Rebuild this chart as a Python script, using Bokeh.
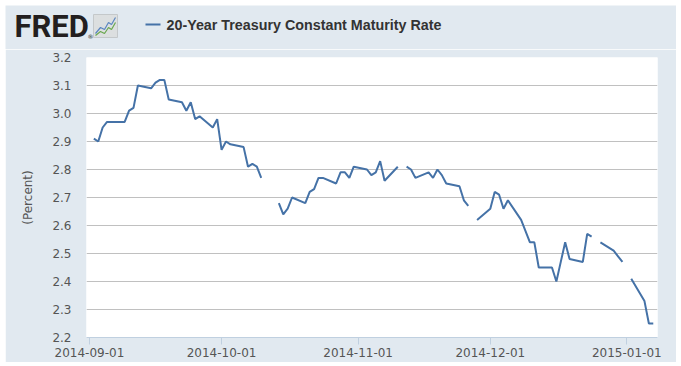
import numpy as np
import pandas as pd
from bokeh.plotting import figure
from bokeh.layouts import column
from bokeh.core.properties import value
from bokeh.models import (ColumnDataSource, FixedTicker, DatetimeTickFormatter, Range1d,
                          NumeralTickFormatter)
from bokeh.embed import file_html
from bokeh.resources import INLINE

# ---- data (DGS20, percent); NaN = market holiday ----
dates = [
    "2014-09-01", "2014-09-02", "2014-09-03", "2014-09-04", "2014-09-05",
    "2014-09-08", "2014-09-09", "2014-09-10", "2014-09-11", "2014-09-12",
    "2014-09-15", "2014-09-16", "2014-09-17", "2014-09-18", "2014-09-19",
    "2014-09-22", "2014-09-23", "2014-09-24", "2014-09-25", "2014-09-26",
    "2014-09-29", "2014-09-30", "2014-10-01", "2014-10-02", "2014-10-03",
    "2014-10-06", "2014-10-07", "2014-10-08", "2014-10-09", "2014-10-10",
    "2014-10-13", "2014-10-14", "2014-10-15", "2014-10-16", "2014-10-17",
    "2014-10-20", "2014-10-21", "2014-10-22", "2014-10-23", "2014-10-24",
    "2014-10-27", "2014-10-28", "2014-10-29", "2014-10-30", "2014-10-31",
    "2014-11-03", "2014-11-04", "2014-11-05", "2014-11-06", "2014-11-07",
    "2014-11-10", "2014-11-11", "2014-11-12", "2014-11-13", "2014-11-14",
    "2014-11-17", "2014-11-18", "2014-11-19", "2014-11-20", "2014-11-21",
    "2014-11-24", "2014-11-25", "2014-11-26", "2014-11-27", "2014-11-28",
    "2014-12-01", "2014-12-02", "2014-12-03", "2014-12-04", "2014-12-05",
    "2014-12-08", "2014-12-09", "2014-12-10", "2014-12-11", "2014-12-12",
    "2014-12-15", "2014-12-16", "2014-12-17", "2014-12-18", "2014-12-19",
    "2014-12-22", "2014-12-23", "2014-12-24", "2014-12-25", "2014-12-26",
    "2014-12-29", "2014-12-30", "2014-12-31", "2015-01-01", "2015-01-02",
    "2015-01-05", "2015-01-06", "2015-01-07",
]
nan = float("nan")
rates = [
    nan, 2.91, 2.90, 2.95, 2.97,
    2.97, 2.97, 3.01, 3.02, 3.10,
    3.09, 3.11, 3.12, 3.12, 3.05,
    3.04, 3.01, 3.04, 2.98, 2.99,
    2.95, 2.98, 2.87, 2.90, 2.89,
    2.88, 2.81, 2.82, 2.81, 2.77,
    nan, 2.68, 2.64, 2.66, 2.70,
    2.68, 2.72, 2.73, 2.77, 2.77,
    2.75, 2.79, 2.79, 2.77, 2.81,
    2.80, 2.78, 2.79, 2.83, 2.76,
    2.81, nan, 2.81, 2.80, 2.77,
    2.79, 2.77, 2.80, 2.78, 2.75,
    2.74, 2.69, 2.67, nan, 2.62,
    2.66, 2.72, 2.71, 2.66, 2.69,
    2.62, 2.58, 2.54, 2.54, 2.45,
    2.45, 2.40, 2.47, 2.54, 2.48,
    2.47, 2.57, 2.56, nan, 2.54,
    2.51, 2.49, 2.47, nan, 2.41,
    2.33, 2.25, 2.25,
]
x_tick_labels = ["2014-09-01", "2014-10-01", "2014-11-01", "2014-12-01", "2015-01-01"]
y_ticks = [2.2, 2.3, 2.4, 2.5, 2.6, 2.7, 2.8, 2.9, 3.0, 3.1, 3.2]
series_name = "20-Year Treasury Constant Maturity Rate"
y_label = "(Percent)"
logo_text = "FRED"

BG = "#e1e9f0"
LINE = "#4572a7"
TXT = "#555555"
W = 671
HH = 44   # header height

# ---------------- header (pixel-space figure) ----------------
h = figure(width=W, height=HH, output_backend="svg", toolbar_location=None,
           x_range=Range1d(0, W), y_range=Range1d(HH, 0),
           x_axis_location=None, y_axis_location=None,
           background_fill_color=BG, border_fill_color=BG,
           min_border=0, min_border_left=0, min_border_right=0,
           min_border_top=0, min_border_bottom=0)
h.frame_align = False
h.outline_line_color = None
h.grid.visible = False

h.text(x=[9], y=[21], text=[logo_text], text_font=value("Roboto"),
       text_font_style="bold", text_font_size="31px", text_color="#231f20",
       text_baseline="middle", text_align="left")
h.text(x=[82], y=[31], text=["®"], text_font=value("DejaVu Sans"),
       text_font_size="6px", text_color="#231f20", text_baseline="middle",
       text_align="left")
# small logo icon
h.quad(left=[88], right=[112], top=[9], bottom=[32], fill_color="#dcdfe0",
       line_color="#c4c8ca", line_width=1)
h.line(x=[90, 95, 99, 103, 106, 110], y=[28, 22, 24, 17, 19, 12],
       line_color="#5b86c0", line_width=1.2)
h.line(x=[90, 95, 99, 103, 106, 110], y=[30, 26, 28, 22, 24, 17],
       line_color="#6aa84f", line_width=1.2)
# legend
h.line(x=[140, 155], y=[19, 19], line_color=LINE, line_width=2)
h.text(x=[161], y=[19], text=[series_name], text_font=value("Liberation Sans"),
       text_font_style="bold", text_font_size="14.3px", text_color="#333333",
       text_baseline="middle", text_align="left")

# ---------------- main chart ----------------
src = ColumnDataSource(dict(date=pd.to_datetime(dates), rate=rates))

x0 = pd.Timestamp("2014-08-31 08:00")
x1 = pd.Timestamp("2015-01-07 23:00")

p = figure(width=W, height=313, output_backend="svg", toolbar_location=None,
           x_axis_type="datetime",
           x_range=Range1d(x0, x1), y_range=Range1d(2.2, 3.2),
           background_fill_color="white", border_fill_color=BG,
           min_border_left=81, min_border_right=19, min_border_top=8,
           min_border_bottom=25)
p.frame_align = False
p.outline_line_color = None

p.line("date", "rate", source=src, line_color=LINE, line_width=2)

# y axis
p.yaxis.ticker = FixedTicker(ticks=y_ticks)
p.yaxis.formatter = NumeralTickFormatter(format="0.0")
p.yaxis.axis_line_color = None
p.yaxis.major_tick_line_color = None
p.yaxis.minor_tick_line_color = None
p.yaxis.major_tick_out = 0
p.yaxis.major_tick_in = 0
p.yaxis.major_label_standoff = 15
p.yaxis.major_label_text_font = "DejaVu Sans"
p.yaxis.major_label_text_font_size = "12px"
p.yaxis.major_label_text_color = TXT
p.yaxis.axis_label = y_label
p.yaxis.axis_label_text_font = "DejaVu Sans"
p.yaxis.axis_label_text_font_size = "12px"
p.yaxis.axis_label_text_font_style = "normal"
p.yaxis.axis_label_text_color = TXT
p.yaxis.axis_label_standoff = 14
p.ygrid.grid_line_color = "#c0c0c0"
p.ygrid.grid_line_width = 1
p.xgrid.grid_line_color = None

# x axis
xt = [pd.Timestamp(s).value / 1e6 for s in x_tick_labels]
p.xaxis.ticker = FixedTicker(ticks=xt)
p.xaxis.formatter = DatetimeTickFormatter(days="%Y-%m-%d", months="%Y-%m-%d",
                                          years="%Y-%m-%d")
p.xaxis.axis_line_color = "#c0d0e0"
p.xaxis.major_tick_line_color = "#c0d0e0"
p.xaxis.minor_tick_line_color = None
p.xaxis.major_tick_in = 0
p.xaxis.major_tick_out = 7
p.xaxis.major_label_standoff = 3
p.xaxis.major_label_text_font = "DejaVu Sans"
p.xaxis.major_label_text_font_size = "12px"
p.xaxis.major_label_text_color = TXT

layout = column(h, p, spacing=0)
layout.styles = {"margin-left": "5px", "margin-top": "5px"}

open("out.html", "w").write(file_html(layout, INLINE))
